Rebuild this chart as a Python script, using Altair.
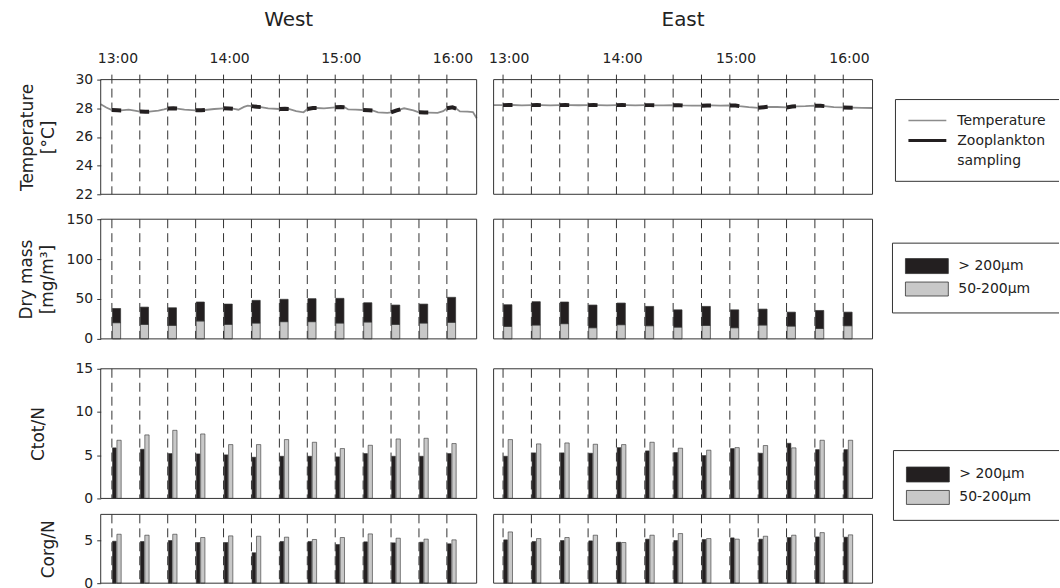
import altair as alt
import pandas as pd

# ---------------- data ----------------
# sampling start times, minutes after 12:00
sample_min = [57, 72, 87, 102, 117, 132, 147, 162, 177, 192, 207, 222, 237]
sample_len = 5
hour_ticks = [60, 120, 180, 240]

west_temp_min = [51, 54, 57, 60, 62, 66, 70, 72, 75, 77, 82, 85, 87, 90, 92, 96, 102, 105, 107,
                 112, 117, 120, 122, 125, 128, 130, 132, 135, 137, 141, 147, 150, 152, 156, 160,
                 162, 165, 167, 171, 177, 180, 182, 184, 188, 192, 195, 197, 200, 205, 207, 210,
                 212, 214, 219, 222, 225, 227, 232, 235, 237, 240, 242, 244, 248, 251, 253]
west_temp = [28.28, 28.05, 27.88, 27.86, 27.85, 27.9, 27.82, 27.77, 27.75, 27.76, 27.84, 27.92,
             27.99, 28.0, 27.98, 27.9, 27.86, 27.86, 27.88, 27.95, 28.0, 27.99, 27.97, 27.9, 28.1,
             28.18, 28.15, 28.1, 28.08, 28.0, 27.95, 27.96, 27.95, 27.8, 27.72, 27.95, 28.02,
             28.02, 28.0, 28.07, 28.09, 28.08, 27.92, 27.9, 27.88, 27.86, 27.85, 27.72, 27.68,
             27.72, 27.85, 27.93, 28.0, 27.86, 27.72, 27.7, 27.7, 27.68, 27.8, 28.0, 28.07, 27.98,
             27.78, 27.77, 27.73, 27.3]

east_temp_min = [52, 57, 60, 62, 67, 72, 75, 77, 82, 87, 90, 92, 97, 102, 105, 107, 112, 117, 120,
                 122, 127, 132, 135, 137, 142, 147, 150, 152, 157, 162, 165, 167, 172, 177, 180,
                 182, 187, 192, 195, 197, 202, 207, 210, 212, 217, 222, 225, 227, 232, 237, 242,
                 247, 252.5]
east_temp = [28.22, 28.22, 28.23, 28.23, 28.2, 28.22, 28.23, 28.22, 28.2, 28.22, 28.23, 28.22,
             28.21, 28.22, 28.23, 28.22, 28.2, 28.22, 28.23, 28.22, 28.2, 28.22, 28.22, 28.21,
             28.2, 28.21, 28.22, 28.2, 28.18, 28.18, 28.2, 28.2, 28.18, 28.2, 28.19, 28.15, 28.08,
             28.03, 28.07, 28.1, 28.09, 28.06, 28.12, 28.14, 28.15, 28.18, 28.17, 28.15, 28.08,
             28.06, 28.04, 28.03, 28.02]

# dry mass [mg/m3]
west_dm_fine = [20.3, 18.2, 17.0, 22.5, 18.2, 19.9, 21.6, 21.6, 19.9, 21.2, 18.2, 19.9, 20.8]
west_dm_coarse = [17.8, 21.6, 22.0, 23.7, 25.4, 28.4, 28.0, 28.8, 30.9, 24.1, 24.2, 23.7, 31.3]
east_dm_fine = [15.7, 17.4, 19.1, 14.0, 17.8, 16.5, 14.8, 16.9, 14.0, 17.4, 16.1, 13.1, 16.5]
east_dm_coarse = [27.1, 29.2, 27.1, 28.4, 27.1, 24.2, 21.6, 23.8, 22.4, 19.9, 17.4, 22.5, 17.0]

# Ctot/N
west_ctot_coarse = [5.85, 5.69, 5.19, 5.15, 5.04, 4.77, 4.88, 4.88, 4.81, 5.19, 4.88, 4.88, 5.19]
west_ctot_fine = [6.73, 7.35, 7.88, 7.46, 6.23, 6.23, 6.81, 6.5, 5.77, 6.15, 6.88, 6.96, 6.35]
east_ctot_coarse = [4.88, 5.27, 5.27, 5.23, 5.88, 5.5, 5.31, 4.96, 5.77, 5.23, 6.38, 5.65, 5.65]
east_ctot_fine = [6.81, 6.31, 6.42, 6.27, 6.23, 6.5, 5.81, 5.58, 5.88, 6.12, 5.85, 6.73, 6.73]

# Corg/N
west_corg_coarse = [4.88, 4.85, 4.96, 4.73, 4.73, 3.54, 4.85, 4.85, 4.5, 4.81, 4.69, 4.77, 4.58]
west_corg_fine = [5.69, 5.58, 5.69, 5.31, 5.5, 5.46, 5.35, 5.08, 5.31, 5.73, 5.23, 5.12, 5.04]
east_corg_coarse = [5.04, 4.85, 4.96, 4.92, 4.77, 5.12, 4.96, 5.08, 5.27, 5.12, 5.31, 5.38, 5.35]
east_corg_fine = [5.96, 5.19, 5.31, 5.58, 4.73, 5.58, 5.77, 5.19, 5.12, 5.46, 5.58, 5.88, 5.62]

COARSE = "> 200µm"
FINE = "50-200µm"

# ---------------- styling / layout ----------------
FONT = "DejaVu Sans"
BLACK = "#231f20"
GRAY = "#c8c8c8"
LINE_GRAY = "#8c8c8c"
FRAME = "#333333"
TXT = "#222222"

W_DOMAIN, W_RANGE = [51, 253], [0, 377]
E_DOMAIN, E_RANGE = [52, 252.5], [394, 774]
ROW_W = 961
PANEL_H = [115, 120, 130, 69]
GAP_BELOW = [25, 30, 16, 0]

samples_df = pd.DataFrame({"t": sample_min})
one = pd.DataFrame({"a": [0]})


def xsc(side):
    d, r = (W_DOMAIN, W_RANGE) if side == "W" else (E_DOMAIN, E_RANGE)
    return alt.Scale(domain=d, range=r, nice=False, zero=False)


def frame(side, h):
    x0, x1 = W_RANGE if side == "W" else E_RANGE
    return alt.Chart(one).mark_rect(fill="white", fillOpacity=0, stroke=FRAME,
                                    strokeWidth=1).encode(
        x=alt.value(x0), x2=alt.value(x1), y=alt.value(0), y2=alt.value(h))


def dashed(side, h, top=0):
    return alt.Chart(samples_df).mark_rule(color=FRAME, strokeDash=[9, 5],
                                           strokeWidth=1).encode(
        x=alt.X("t:Q", scale=xsc(side), axis=None),
        y=alt.value(top), y2=alt.value(h))


def hrule(x1, x2, y, color=FRAME, w=1):
    return alt.Chart(one).mark_rule(color=color, strokeWidth=w).encode(
        x=alt.value(x1), x2=alt.value(x2), y=alt.value(y))


def vrule(x, y1, y2):
    return alt.Chart(one).mark_rule(color=FRAME, strokeWidth=1).encode(
        x=alt.value(x), y=alt.value(y1), y2=alt.value(y2))


def label(x, y, txt, size=14):
    return alt.Chart(one).mark_text(align="left", baseline="middle", fontSize=size,
                                    font=FONT, color=TXT).encode(
        x=alt.value(x), y=alt.value(y), text=alt.value(txt))


def swatch(x1, x2, y1, y2, fill):
    return alt.Chart(one).mark_rect(fill=fill, stroke=FRAME, strokeWidth=0.8).encode(
        x=alt.value(x1), x2=alt.value(x2), y=alt.value(y1), y2=alt.value(y2))


def legend_box(left, top, bottom):
    return [hrule(left, ROW_W, top), hrule(left, ROW_W, bottom), vrule(left, top, bottom)]


def size_legend(left, top, bottom, y_black, y_gray):
    return legend_box(left, top, bottom) + [
        swatch(left + 13, left + 56, y_black - 7.5, y_black + 7.5, BLACK),
        swatch(left + 13, left + 56, y_gray - 7, y_gray + 7, GRAY),
        label(left + 66, y_black, COARSE),
        label(left + 66, y_gray, FINE),
    ]


def yenc(field, domain, h, axis):
    return alt.Y(field, scale=alt.Scale(domain=domain, range=[h, 0], nice=False, zero=False),
                 axis=axis)


def yaxis(values, title, titlex):
    return alt.Axis(values=values, title=title, titleX=titlex, tickSize=4, labelPadding=4)


# ---------- row 1 : temperature ----------
def temp_layers(side, times, temps, ax):
    df = pd.DataFrame({"t": times, "temp": temps})
    sid = []
    for t in times:
        found = -1
        for i, s in enumerate(sample_min):
            if s <= t <= s + sample_len:
                found = i
        sid.append(found)
    df["sample"] = sid
    y = yenc("temp:Q", [22, 30], PANEL_H[0], ax)
    xaxis = alt.Axis(orient="top", values=hour_ticks, ticks=False, domain=False,
                     labelPadding=14, title=None, grid=False,
                     labelExpr="(12 + floor(datum.value / 60)) + ':00'")
    line = alt.Chart(df).mark_line(color=LINE_GRAY, strokeWidth=1.8).encode(
        x=alt.X("t:Q", scale=xsc(side), axis=xaxis), y=y)
    samp = alt.Chart(df).transform_filter("datum.sample >= 0").mark_line(
        color=BLACK, strokeWidth=4).encode(
        x=alt.X("t:Q", scale=xsc(side), axis=None), y=y, detail="sample:N")
    return [line, samp]


def side_title(side, txt):
    mid = (W_DOMAIN if side == "W" else E_DOMAIN)
    return alt.Chart(one).mark_text(fontSize=20, font=FONT, color=TXT,
                                    baseline="middle", align="center").encode(
        x=alt.X(datum=(mid[0] + mid[1]) / 2, type="quantitative", scale=xsc(side), axis=None),
        y=alt.value(-60), text=alt.value(txt))


h = PANEL_H[0]
ax_t = yaxis([22, 24, 26, 28, 30], ["Temperature", "[°C]"], -73)
row1 = alt.layer(
    dashed("W", h, -5), dashed("E", h, -5),
    *temp_layers("W", west_temp_min, west_temp, ax_t),
    *temp_layers("E", east_temp_min, east_temp, ax_t),
    frame("W", h), frame("E", h),
    side_title("W", "West"), side_title("E", "East"),
    *legend_box(797, 20, 102),
    hrule(810, 848, 41, LINE_GRAY, 1.5),
    hrule(810, 848, 61, BLACK, 3),
    label(859, 42, "Temperature"),
    label(859, 62, "Zooplankton"),
    label(859, 82, "sampling"),
).resolve_scale(x="independent").properties(width=ROW_W, height=h + GAP_BELOW[0])


# ---------- row 2 : dry mass ----------
def dm_layers(side, fine, coarse, ax):
    rows = []
    for s, f, c in zip(sample_min, fine, coarse):
        rows.append({"t0": s + 0.3, "t1": s + 4.7, "v0": 0, "v": f, "size": FINE})
        rows.append({"t0": s + 0.3, "t1": s + 4.7, "v0": f, "v": f + c, "size": COARSE})
    df = pd.DataFrame(rows)
    return alt.Chart(df).mark_rect(stroke=FRAME, strokeWidth=0.7).encode(
        x=alt.X("t0:Q", scale=xsc(side), axis=None), x2="t1:Q",
        y=yenc("v0:Q", [0, 150], PANEL_H[1], ax), y2="v:Q",
        color=alt.Color("size:N", scale=alt.Scale(domain=[COARSE, FINE], range=[BLACK, GRAY]),
                        legend=None))


h = PANEL_H[1]
ax_d = yaxis([0, 50, 100, 150], ["Dry mass", "[mg/m³]"], -74)
row2 = alt.layer(
    dashed("W", h), dashed("E", h),
    dm_layers("W", west_dm_fine, west_dm_coarse, ax_d),
    dm_layers("E", east_dm_fine, east_dm_coarse, ax_d),
    frame("W", h), frame("E", h),
    *size_legend(794, 24, 94, 47, 70),
).resolve_scale(x="independent").properties(width=ROW_W, height=h + GAP_BELOW[1])


# ---------- rows 3/4 : C/N ratios ----------
def ratio_layers(side, coarse, fine, ymax, h, ax):
    rows = []
    for s, c, f in zip(sample_min, coarse, fine):
        rows.append({"t0": s + 0.35, "t1": s + 2.3, "v0": 0, "v": c, "size": COARSE})
        rows.append({"t0": s + 2.7, "t1": s + 5.0, "v0": 0, "v": f, "size": FINE})
    df = pd.DataFrame(rows)
    return alt.Chart(df).mark_rect(stroke=FRAME, strokeWidth=0.6).encode(
        x=alt.X("t0:Q", scale=xsc(side), axis=None), x2="t1:Q",
        y=yenc("v0:Q", [0, ymax], h, ax), y2="v:Q",
        color=alt.Color("size:N", scale=alt.Scale(domain=[COARSE, FINE], range=[BLACK, GRAY]),
                        legend=None))


h = PANEL_H[2]
ax_c = yaxis([0, 5, 10, 15], "Ctot/N", -62)
row3 = alt.layer(
    dashed("W", h), dashed("E", h),
    ratio_layers("W", west_ctot_coarse, west_ctot_fine, 15, h, ax_c),
    ratio_layers("E", east_ctot_coarse, east_ctot_fine, 15, h, ax_c),
    frame("W", h), frame("E", h),
    *size_legend(795, 82, 152, 106, 129),
).resolve_scale(x="independent").properties(width=ROW_W, height=h + GAP_BELOW[2])

h = PANEL_H[3]
ax_o = yaxis([0, 5], "Corg/N", -52)
row4 = alt.layer(
    dashed("W", h), dashed("E", h),
    ratio_layers("W", west_corg_coarse, west_corg_fine, 8, h, ax_o),
    ratio_layers("E", east_corg_coarse, east_corg_fine, 8, h, ax_o),
    frame("W", h), frame("E", h),
).resolve_scale(x="independent").properties(width=ROW_W, height=h)

chart = alt.vconcat(row1, row2, row3, row4, spacing=0, bounds="flush").properties(
    padding={"left": 17, "top": 8, "right": 0, "bottom": 0}
).configure(font=FONT).configure_view(
    stroke="transparent"
).configure_axis(
    grid=False, domain=False, labelFontSize=14, labelColor=TXT, labelFont=FONT,
    tickColor=FRAME, titleFontSize=17, titleFontWeight="normal", titleColor=TXT,
    titleFont=FONT, titleBaseline="middle", titleLineHeight=21
)

chart.save("out.html", embed_options={"renderer": "svg", "actions": False})
